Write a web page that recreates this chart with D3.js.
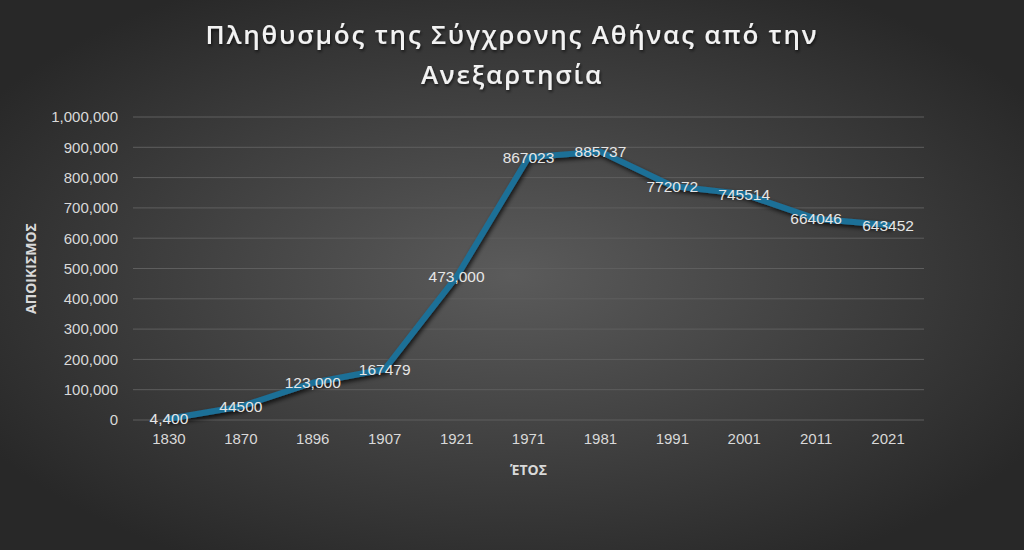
<!DOCTYPE html>
<html><head><meta charset="utf-8">
<script src="https://cdn.jsdelivr.net/npm/d3@7"></script>
<style>
html,body{margin:0;padding:0;background:#2b2b2b;}
svg{display:block;}
</style></head>
<body>
<svg id="chart" width="1024" height="550"></svg>
<script>
const years = ["1830","1870","1896","1907","1921","1971","1981","1991","2001","2011","2021"];
const population = [4400,44500,123000,167479,473000,867023,885737,772072,745514,664046,643452];
const labels = ["4,400","44500","123,000","167479","473,000","867023","885737","772072","745514","664046","643452"];
const yTicks = [0,100000,200000,300000,400000,500000,600000,700000,800000,900000,1000000];
const titleLines = ["Πληθυσμός της Σύγχρονης Αθήνας από την","Ανεξαρτησία"];
const xTitle = "ΈΤΟΣ";
const yTitle = "ΑΠΟΙΚΙΣΜΟΣ";

const W=1024,H=550;
const m={left:133,right:100,top:117,bottom:130};
const svg=d3.select("#chart");
const defs=svg.append("defs");
const rg=defs.append("radialGradient").attr("id","bg").attr("cx","50%").attr("cy","50%").attr("r","60%");
rg.append("stop").attr("offset","0%").attr("stop-color","#5b5b5b");
rg.append("stop").attr("offset","100%").attr("stop-color","#282828");
const f=defs.append("filter").attr("id","sh").attr("x","-10%").attr("y","-10%").attr("width","120%").attr("height","130%");
f.append("feDropShadow").attr("dx",1.5).attr("dy",2.5).attr("stdDeviation",2).attr("flood-color","#000").attr("flood-opacity",0.75);
const tf=defs.append("filter").attr("id","tsh").attr("x","-10%").attr("y","-30%").attr("width","120%").attr("height","160%");
tf.append("feDropShadow").attr("dx",1).attr("dy",2).attr("stdDeviation",1.5).attr("flood-color","#000").attr("flood-opacity",0.6);

svg.append("rect").attr("width",W).attr("height",H).attr("fill","url(#bg)");

const x=d3.scaleBand().domain(years).range([m.left,924]);
const y=d3.scaleLinear().domain([0,1000000]).range([420,117]);

// gridlines
svg.append("g").selectAll("line").data(yTicks).join("line")
  .attr("x1",m.left).attr("x2",924).attr("y1",d=>y(d)).attr("y2",d=>y(d))
  .attr("stroke","#5e5e5e").attr("stroke-width",1);

// y axis labels
const yAxis=d3.axisLeft(y).tickValues(yTicks).tickFormat(d3.format(",")).tickSize(0).tickPadding(15);
const ga=svg.append("g").attr("transform",`translate(${m.left},0)`).call(yAxis);
ga.select(".domain").remove();
ga.selectAll("text").attr("fill","#d9d9d9").style("font-family","Liberation Sans, Arial, sans-serif").style("font-size","15px");

// x axis labels
const xAxis=d3.axisBottom(x).tickSize(0).tickPadding(13);
const gx=svg.append("g").attr("transform",`translate(0,420)`).call(xAxis);
gx.select(".domain").remove();
gx.selectAll("text").attr("fill","#d9d9d9").style("font-family","Liberation Sans, Arial, sans-serif").style("font-size","15px");

// line
const cx=d=>x(d)+x.bandwidth()/2;
const line=d3.line().x((d,i)=>cx(years[i])).y(d=>y(d));
svg.append("path").datum(population).attr("d",line)
  .attr("fill","none").attr("stroke","#1e6f97").attr("stroke-width",6)
  .attr("stroke-linejoin","round").attr("stroke-linecap","round").attr("filter","url(#sh)");

// data labels
svg.append("g").selectAll("text").data(population).join("text")
  .attr("x",(d,i)=>cx(years[i])).attr("y",d=>y(d)).attr("dy","0.36em")
  .attr("text-anchor","middle").attr("fill","#e6e6e6")
  .style("font-family","Liberation Sans, Arial, sans-serif").style("font-size","15.5px")
  .text((d,i)=>labels[i]);

// titles
svg.append("g").selectAll("text").data(titleLines).join("text")
  .attr("x",512).attr("y",(d,i)=>44+i*40).attr("text-anchor","middle")
  .attr("fill","#f2f2f2").attr("filter","url(#tsh)")
  .style("font-family","Open Sans, sans-serif").style("font-size","26px").style("font-weight","600")
  .style("letter-spacing","1.8px").text(d=>d);

svg.append("text").attr("x",(m.left+924)/2).attr("y",475).attr("text-anchor","middle")
  .attr("fill","#d9d9d9").style("font-family","Open Sans, sans-serif").style("font-size","14px").style("font-weight","700")
  .text(xTitle);
svg.append("text").attr("transform",`translate(36,${(117+420)/2}) rotate(-90)`).attr("text-anchor","middle")
  .attr("fill","#d9d9d9").style("font-family","Open Sans, sans-serif").style("font-size","14px").style("font-weight","700")
  .text(yTitle);
</script>
</body></html>
